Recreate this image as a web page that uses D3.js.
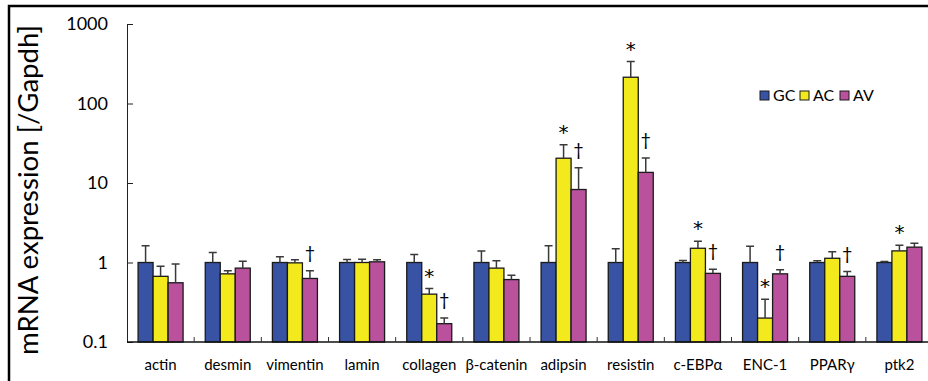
<!DOCTYPE html>
<meta charset="utf-8">
<style>
  body { margin: 0; background: #fff; }
  svg { display: block; font-family: Lato, "Open Sans", sans-serif; }
  .bar { stroke: #1a1a1a; stroke-width: 1.3px; }
  .err { stroke: #3a3a3a; stroke-width: 1.5px; fill: none; }
  .axis path, .axis line { stroke: #222; }
  .axis text { fill: #111; }
</style>
<body>
<script src="https://cdn.jsdelivr.net/npm/d3@7"></script>
<script>

// categories and series
var categories = ["actin", "desmin", "vimentin", "lamin", "collagen", "β-catenin",
                  "adipsin", "resistin", "c-EBPα", "ENC-1", "PPARγ", "ptk2"];
var series = ["GC", "AC", "AV"];
var colors = ["#3953a4", "#f2ea1c", "#b9519c"];

// means and upper end of error bars
var gcMean = [1, 1, 1, 1, 1, 1, 1, 1, 1, 1, 1, 1];
var gcErr  = [1.62, 1.34, 1.18, 1.09, 1.26, 1.40, 1.62, 1.49, 1.06, 1.60, 1.05, 1.03];
var acMean = [0.67, 0.72, 0.99, 1.0, 0.40, 0.85, 20.5, 214, 1.51, 0.20, 1.13, 1.40];
var acErr  = [0.90, 0.79, 1.08, 1.10, 0.47, 1.05, 30.3, 337, 1.85, 0.345, 1.37, 1.65];
var avMean = [0.556, 0.85, 0.63, 1.02, 0.17, 0.61, 8.28, 13.6, 0.73, 0.72, 0.67, 1.56];
var avErr  = [0.96, 1.04, 0.79, 1.08, 0.20, 0.69, 15.5, 20.7, 0.82, 0.81, 0.77, 1.75];

// significance marks: * on AC, † on AV
var acStar   = [0, 0, 0, 0, 1, 0, 1, 1, 1, 1, 0, 1];
var avDagger = [0, 0, 1, 0, 1, 0, 1, 1, 1, 1, 1, 0];

var yTicks = [0.1, 1, 10, 100, 1000];
var yLabel = "mRNA expression [/Gapdh]";

var width = 928, height = 381;
var means = [gcMean, acMean, avMean];
var errs = [gcErr, acErr, avErr];

var svg = d3.select("body").append("svg")
    .attr("width", width)
    .attr("height", height);

// frame (cropped at right and bottom)
svg.append("path")
    .attr("d", "M9," + height + "V6H" + width)
    .attr("fill", "none")
    .attr("stroke", "#000")
    .attr("stroke-width", 2.5);

var x = d3.scaleBand()
    .domain(categories)
    .range([127, 933])
    .paddingInner(0.33)
    .paddingOuter(0.165);

var xs = d3.scaleBand()
    .domain(series)
    .range([0, x.bandwidth()]);

var y = d3.scaleLog()
    .domain([0.1, 1000])
    .range([342, 24]);

// y axis, ticks pointing inward
var yAxis = svg.append("g")
    .attr("class", "axis")
    .attr("transform", "translate(127,0)")
    .call(d3.axisRight(y).tickValues(yTicks).tickSize(6).tickSizeOuter(0).tickFormat(d3.format("~g")));
yAxis.selectAll("text").remove();
yAxis.selectAll(".tick line").attr("stroke", "#555");

svg.append("g")
  .selectAll("text")
  .data(yTicks)
  .join("text")
    .attr("x", 108)
    .attr("y", function(d) { return y(d); })
    .attr("dy", "0.35em")
    .attr("text-anchor", "end")
    .attr("font-size", 18)
    .text(function(d) { return d3.format("~g")(d); });

// y label
svg.append("text")
    .attr("transform", "translate(38,190) rotate(-90)")
    .attr("text-anchor", "middle")
    .attr("font-size", 26)
    .attr("textLength", 330)
    .attr("lengthAdjust", "spacingAndGlyphs")
    .text(yLabel);

// bars
var groups = svg.append("g")
  .selectAll("g")
  .data(categories)
  .join("g")
    .attr("transform", function(d) { return "translate(" + x(d) + ",0)"; });

series.forEach(function(s, si) {
  groups.append("rect")
      .attr("class", "bar")
      .attr("x", xs(s))
      .attr("width", xs.bandwidth())
      .attr("y", function(d, i) { return y(means[si][i]); })
      .attr("height", function(d, i) { return y(0.1) - y(means[si][i]); })
      .attr("fill", colors[si]);

  groups.append("path")
      .attr("class", "err")
      .attr("d", function(d, i) {
        var cx = xs(s) + xs.bandwidth() / 2;
        var top = y(errs[si][i]), base = y(means[si][i]);
        return "M" + cx + "," + base + "V" + top + "M" + (cx - 4) + "," + top + "H" + (cx + 4);
      });
});

// x axis line and inner separator ticks
svg.append("line")
    .attr("x1", 127).attr("x2", width)
    .attr("y1", y(0.1)).attr("y2", y(0.1))
    .attr("stroke", "#111").attr("stroke-width", 1.3);

svg.append("g")
  .selectAll("line")
  .data(categories.slice(1))
  .join("line")
    .attr("x1", function(d) { return x(d) - x.step() * x.paddingInner() / 2; })
    .attr("x2", function(d) { return x(d) - x.step() * x.paddingInner() / 2; })
    .attr("y1", y(0.1)).attr("y2", y(0.1) - 5)
    .attr("stroke", "#333");

svg.append("g")
  .selectAll("text")
  .data(categories)
  .join("text")
    .attr("x", function(d) { return x(d) + x.bandwidth() / 2; })
    .attr("y", 370)
    .attr("text-anchor", "middle")
    .attr("font-size", 15)
    .text(function(d) { return d; });

// significance marks
var marks = svg.append("g");
categories.forEach(function(c, i) {
  if (acStar[i]) {
    marks.append("text")
        .attr("x", x(c) + xs("AC") + xs.bandwidth() / 2)
        .attr("y", y(acErr[i]) - 6)
        .attr("text-anchor", "middle")
        .attr("font-family", "DejaVu Sans")
        .attr("font-size", 20)
        .text("*");
  }
  if (avDagger[i]) {
    marks.append("text")
        .attr("x", x(c) + xs("AV") + xs.bandwidth() / 2)
        .attr("y", y(avErr[i]) - 12)
        .attr("text-anchor", "middle")
        .attr("font-size", 18)
        .text("†");
  }
});

// legend
var legend = svg.append("g")
    .attr("transform", "translate(760,91)");
var lx = [0, 40, 80];
series.forEach(function(s, si) {
  legend.append("rect")
      .attr("x", lx[si]).attr("y", 0)
      .attr("width", 9).attr("height", 9)
      .attr("fill", colors[si])
      .attr("stroke", "#1a1a1a");
  legend.append("text")
      .attr("x", lx[si] + 13).attr("y", 4.5)
      .attr("dy", "0.36em")
      .attr("font-size", 16)
      .text(s);
});

</script>
</body>
